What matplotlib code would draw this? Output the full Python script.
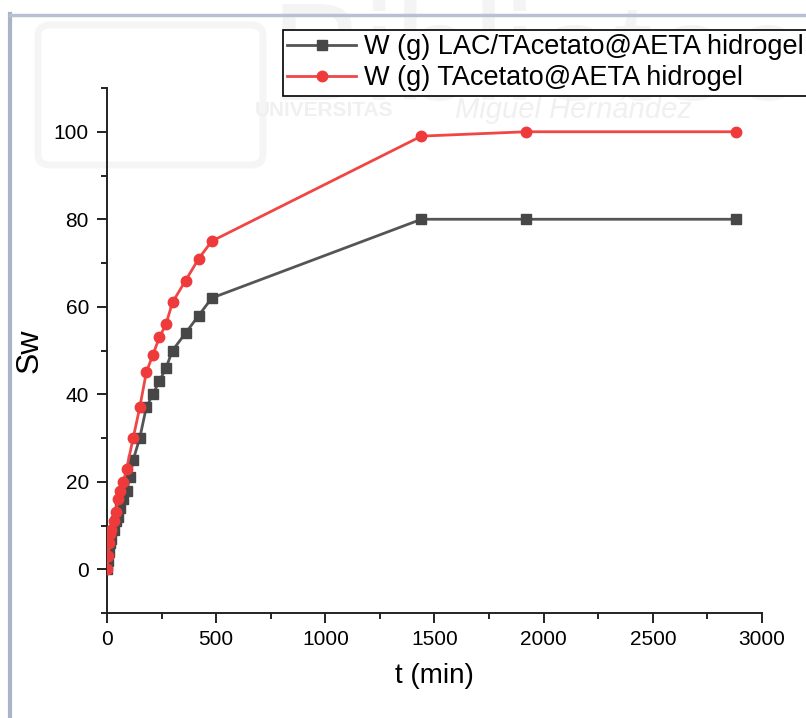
import matplotlib
matplotlib.use("Agg")
import matplotlib.pyplot as plt
from matplotlib.patches import FancyBboxPatch
from matplotlib.lines import Line2D

plt.rcParams['font.family'] = ['Liberation Sans', 'DejaVu Sans']

# Swelling kinetics data
t_lac = [0, 5, 10, 15, 20, 30, 40, 50, 60, 75, 90, 105, 120, 150, 180, 210,
         240, 270, 300, 360, 420, 480, 1440, 1920, 2880]
sw_lac = [0, 2, 4, 6, 7, 9, 11, 12, 14, 16, 18, 21, 25, 30, 37, 40,
          43, 46, 50, 54, 58, 62, 80, 80, 80]

t_tac = [0, 5, 10, 15, 20, 30, 40, 50, 60, 75, 90, 120, 150, 180, 210,
         240, 270, 300, 360, 420, 480, 1440, 1920, 2880]
sw_tac = [0, 3, 6, 8, 9, 11, 13, 16, 18, 20, 23, 30, 37, 45, 49,
          53, 56, 61, 66, 71, 75, 99, 100, 100]

label_lac = "W (g) LAC/TAcetato@AETA hidrogel"
label_tac = "W (g) TAcetato@AETA hidrogel"

x_ticks = [0, 500, 1000, 1500, 2000, 2500, 3000]
y_ticks = [0, 20, 40, 60, 80, 100]

W, H = 806, 718
fig = plt.figure(figsize=(W / 100, H / 100), dpi=100)
fig.patch.set_facecolor('white')

# faint library watermark in the background
fig.text(270 / W, 1 - 100 / H, "Biblioteca", fontsize=101, color='#f4f4f4',
         ha='left', va='baseline', zorder=0)
fig.text(255 / W, 1 - 110 / H, "UNIVERSITAS", fontsize=15, color='#f0f0f0',
         fontweight='bold', ha='left', va='center', zorder=0)
fig.text(455 / W, 1 - 110 / H, "Miguel Hernández", fontsize=21, color='#f0f0f0',
         fontstyle='italic', ha='left', va='center', zorder=0)
logo = FancyBboxPatch((38 / W, 1 - 165 / H), 225 / W, 140 / H,
                      boxstyle="round,pad=0,rounding_size=0.015",
                      transform=fig.transFigure, facecolor='none',
                      edgecolor='#f5f5f5', linewidth=5, zorder=0)
fig.patches.append(logo)

# page frame
fig.add_artist(Line2D([10 / W, 10 / W], [0, 1 - 14 / H], transform=fig.transFigure,
                      color='#aab4c8', linewidth=3, zorder=1))
fig.add_artist(Line2D([10 / W, 1], [1 - 14.5 / H, 1 - 14.5 / H], transform=fig.transFigure,
                      color='#b8c1d2', linewidth=2.5, zorder=1))

ax = fig.add_axes([107 / W, 1 - 613 / H, (762 - 107) / W, (613 - 88) / H])
ax.set_zorder(5)
ax.patch.set_alpha(0)

ax.plot(t_lac, sw_lac, color='#555555', linewidth=2.0, marker='s',
        markersize=7, markerfacecolor='#474747', markeredgecolor='#474747',
        label=label_lac, zorder=3)
ax.plot(t_tac, sw_tac, color='#f04646', linewidth=2.0, marker='o',
        markersize=7.5, markerfacecolor='#ee3a3a', markeredgecolor='#ee3a3a',
        label=label_tac, zorder=4)

ax.set_xlim(0, 3000)
ax.set_ylim(-10, 110)
ax.set_xticks(x_ticks)
ax.set_yticks(y_ticks)
ax.set_xticks(range(250, 3000, 500), minor=True)
ax.set_yticks(range(-10, 111, 20), minor=True)

for side in ('top', 'right'):
    ax.spines[side].set_visible(False)
for side in ('left', 'bottom'):
    ax.spines[side].set_linewidth(1.4)
    ax.spines[side].set_color('#222222')

ax.tick_params(which='major', direction='out', length=7, width=1.4,
               color='#222222', labelsize=15)
ax.tick_params(axis='y', which='major', pad=6)
ax.tick_params(axis='x', which='major', pad=5)
ax.tick_params(which='minor', direction='out', length=4, width=1.4,
               color='#222222')

ax.set_xlabel("t (min)", fontsize=20, labelpad=10)
ax.set_ylabel("Sw", fontsize=23)
ax.yaxis.set_label_coords((45 - 107) / 655, 0.5)

leg = ax.legend(loc='upper left', bbox_to_anchor=(283 / W, 1 - 30 / H),
                bbox_transform=fig.transFigure, fontsize=19.5, frameon=True,
                fancybox=False, framealpha=1, edgecolor='black',
                borderpad=0.15, labelspacing=0.2, handlelength=2.55,
                handletextpad=0.3, borderaxespad=0)
leg.get_frame().set_linewidth(1.2)

fig.savefig("out.png", dpi=100)
